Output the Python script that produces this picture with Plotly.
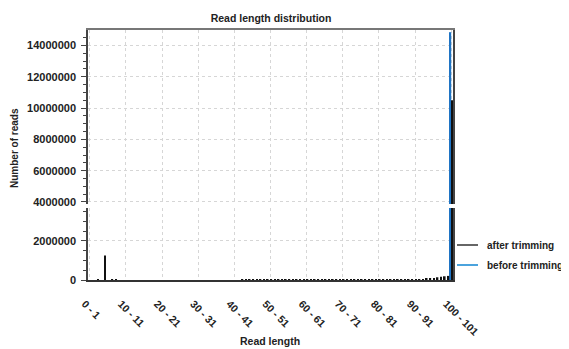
import plotly.graph_objects as go

# ---------------- data ----------------
categories = [f"{i} - {i + 1}" for i in range(101)]
tick_labels = [f"{i} - {i + 1}" for i in range(0, 101, 10)]

after_trimming = [
    0, 0, 15000, 0, 1250000, 0, 20000, 15000, 0, 0,            # 0-9
    0, 0, 0, 0, 0, 0, 0, 0, 0, 0,                               # 10-19
    0, 0, 0, 0, 0, 0, 0, 0, 0, 0,                               # 20-29
    0, 0, 0, 0, 0, 0, 0, 0, 0, 0,                               # 30-39
    0, 0, 12000, 15000, 15000, 15000, 15000, 15000, 15000, 15000,  # 40-49
    15000, 15000, 15000, 18000, 18000, 18000, 18000, 18000, 18000, 18000,  # 50-59
    18000, 18000, 20000, 20000, 20000, 20000, 20000, 20000, 20000, 20000,  # 60-69
    20000, 20000, 20000, 22000, 22000, 22000, 22000, 22000, 22000, 22000,  # 70-79
    22000, 25000, 25000, 25000, 25000, 25000, 28000, 28000, 28000, 30000,  # 80-89
    30000, 35000, 45000, 60000, 80000, 100000, 140000, 170000, 190000, 210000,  # 90-99
    10500000,                                                   # 100
]
before_trimming = [0] * 100 + [14850000]

series_names = ["after trimming", "before trimming"]

# ---------------- styles ----------------
FONT = "Liberation Sans, Arial, sans-serif"
AFTER_BAR = "#111111"
BEFORE_BAR = "#1f74c4"
AFTER_LEG = "#666666"
BEFORE_LEG = "#4ba3dd"
GRID = "#d6d6d6"
TXT = "#222222"

# the page body adds an 8px offset; design in screen pixels
OFF = 8
SCR_W, SCR_H = 569, 349
W, H = SCR_W - OFF, SCR_H - OFF
PL, PR, PT, PB = 88, 453, 30, 280          # plot box in screen pixels
L, T = PL - OFF, PT - OFF
R, B = W - (PR - OFF), H - (PB - OFF)
PW, PH = PR - PL, PB - PT


def px_x(x):
    return (x - PL) / PW


def px_y(y):
    return (PB - y) / PH


fig = go.Figure()

for yax, xax in (("y", "x"), ("y2", "x2")):
    fig.add_trace(go.Bar(x=categories, y=before_trimming, name=series_names[1],
                         marker=dict(color=BEFORE_BAR, line=dict(width=0)),
                         xaxis=xax, yaxis=yax, showlegend=False))
    fig.add_trace(go.Bar(x=categories, y=after_trimming, name=series_names[0],
                         marker=dict(color=AFTER_BAR, line=dict(width=0)),
                         xaxis=xax, yaxis=yax, showlegend=False))

common_y = dict(
    showgrid=True, gridcolor=GRID, griddash="dot", gridwidth=1,
    showline=True, linecolor="#444444", linewidth=1.5, mirror=True,
    ticks="outside", ticklen=5, tickwidth=1, tickcolor="#444444",
    tick0=0, dtick=2000000, tickformat="d", ticklabelstandoff=3,
    tickfont=dict(family=FONT, size=11, color=TXT, weight="bold"),
    minor=dict(dtick=500000, ticks="outside", ticklen=3, tickcolor="#444444", showgrid=False),
    zeroline=False, automargin=False,
)

# legend drawn as line glyphs + texts
legend_items = [(series_names[0], AFTER_LEG, 245), (series_names[1], BEFORE_LEG, 265)]
shapes = []
annotations = []
for name, col, ypx in legend_items:
    shapes.append(dict(type="line", xref="paper", yref="paper",
                       x0=px_x(457), x1=px_x(478), y0=px_y(ypx), y1=px_y(ypx),
                       line=dict(color=col, width=2)))
    annotations.append(dict(text=name, xref="paper", yref="paper", x=px_x(485), y=px_y(ypx),
                            xanchor="left", yanchor="middle", showarrow=False,
                            font=dict(family=FONT, size=10, color=TXT, weight="bold")))

annotations += [
    dict(text="Number of reads", textangle=-90, xref="paper", yref="paper",
         x=px_x(14), y=px_y(148), xanchor="center", yanchor="middle",
         showarrow=False, font=dict(family=FONT, size=10, color=TXT, weight="bold")),
    dict(text="Read length", xref="paper", yref="paper",
         x=px_x(270), y=px_y(341), xanchor="center", yanchor="middle",
         showarrow=False, font=dict(family=FONT, size=10.5, color=TXT, weight="bold")),
]

fig.update_layout(
    width=W, height=H,
    margin=dict(l=L, r=R, t=T, b=B, autoexpand=False),
    paper_bgcolor="white", plot_bgcolor="white",
    barmode="group", bargap=0.1, bargroupgap=0,
    font=dict(family=FONT, size=10.5, color=TXT),
    title=dict(text="Read length distribution", x=(271 - OFF) / W, xanchor="center",
               xref="container", yref="container",
               y=1 - (18 - OFF) / H, yanchor="middle",
               font=dict(family=FONT, size=10.5, color=TXT, weight="bold")),
    xaxis=dict(
        type="category", categoryorder="array", categoryarray=categories,
        range=[-0.5, 100.5], domain=[0, 1], anchor="y",
        tickmode="array", tickvals=tick_labels, ticktext=tick_labels,
        tickangle=45, ticks="", ticklabelstandoff=12, ticklabelshift=-5,
        tickfont=dict(family=FONT, size=10.5, color=TXT, weight="bold"),
        showgrid=True, gridcolor=GRID, griddash="dot", gridwidth=1,
        showline=True, linecolor="#333333", linewidth=1.5,
        zeroline=False, automargin=False,
    ),
    xaxis2=dict(
        type="category", matches="x", anchor="y2", side="top",
        tickmode="array", tickvals=tick_labels, showticklabels=False, ticks="",
        showgrid=True, gridcolor=GRID, griddash="dot", gridwidth=1,
        showline=True, linecolor="#777777", linewidth=1.5,
        zeroline=False, automargin=False,
    ),
    yaxis=dict(domain=[0, 0.288], range=[0, 3690000], anchor="x", **common_y),
    yaxis2=dict(domain=[0.304, 1], range=[3870000, 14990000], anchor="x2", **common_y),
    showlegend=False,
    shapes=shapes,
    annotations=annotations,
)

fig.write_html("out.html")
